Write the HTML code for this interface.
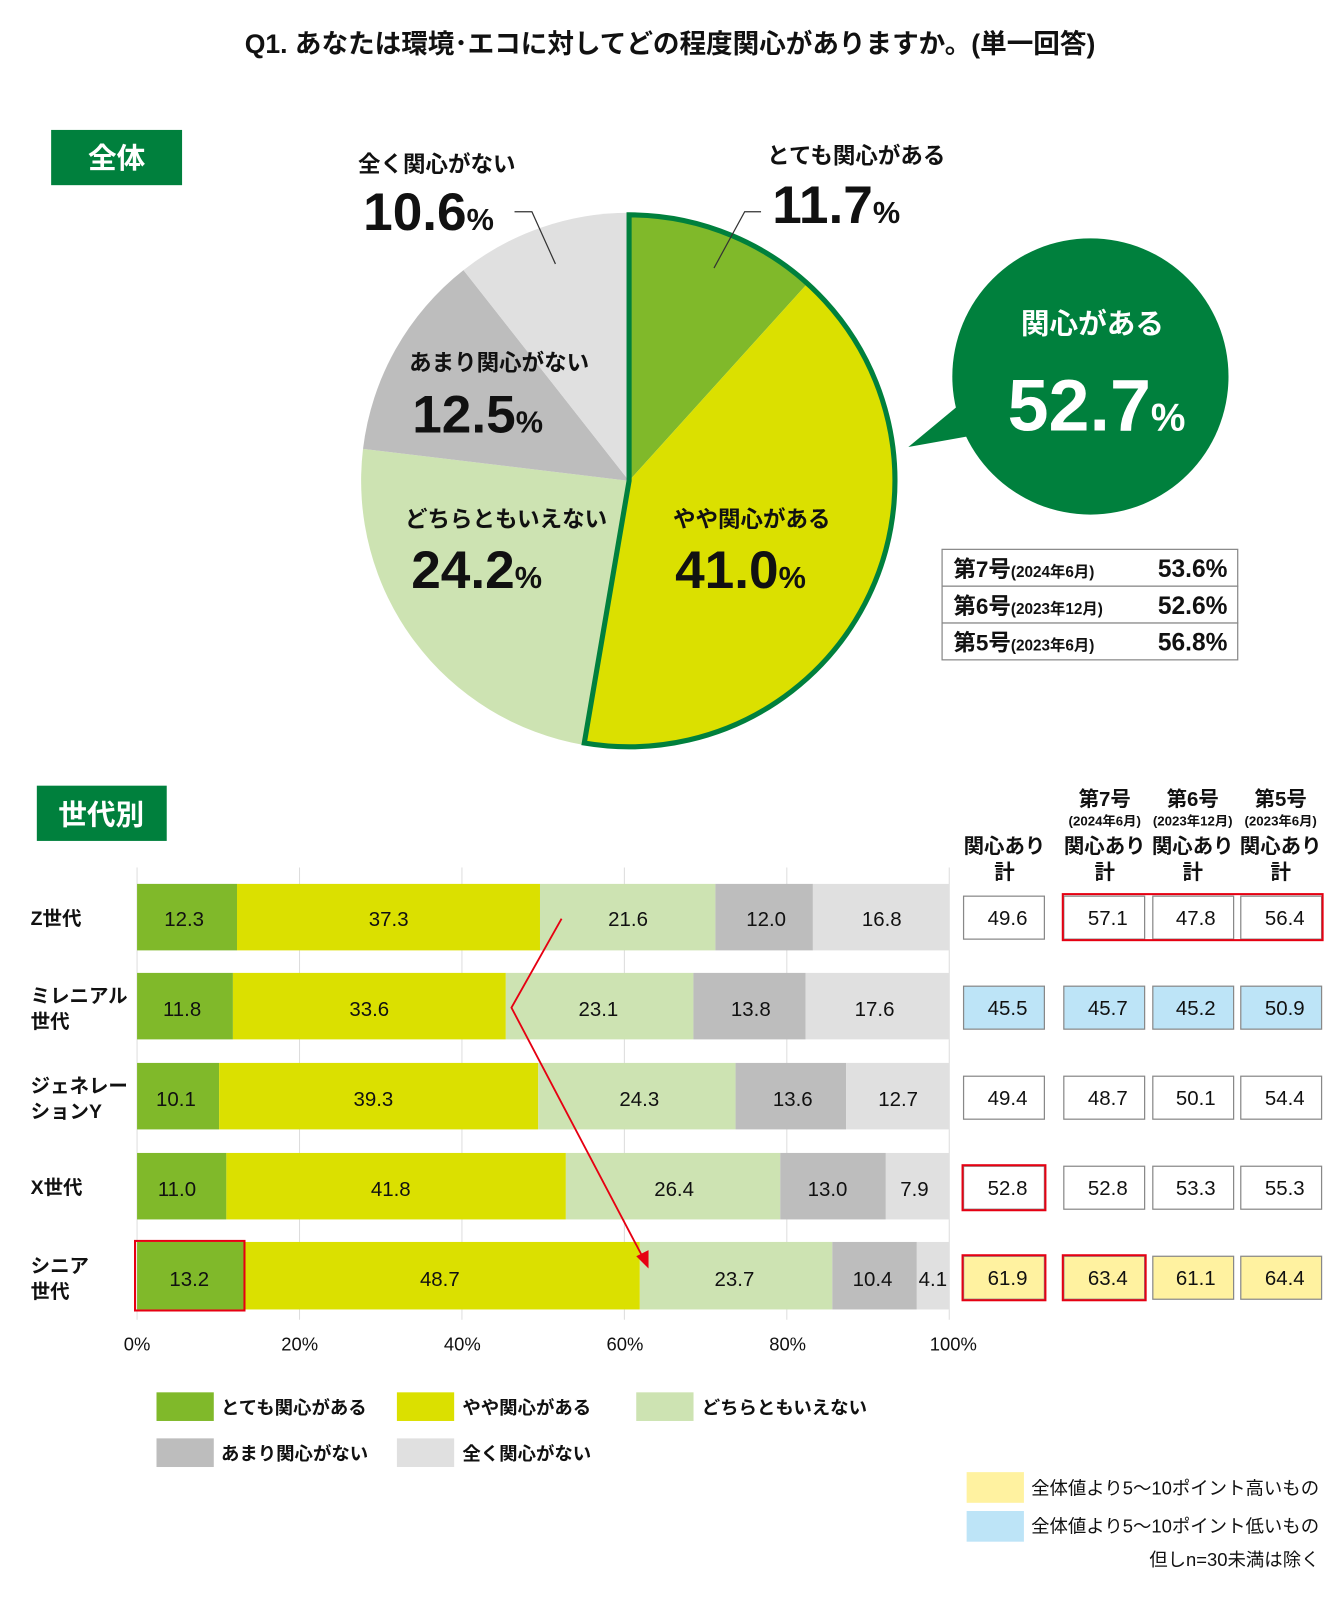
<!DOCTYPE html>
<html><head><meta charset="utf-8"><style>
html,body{margin:0;padding:0;background:#fff;}
svg{display:block;}
text{font-family:"Liberation Sans","Noto Sans CJK JP",sans-serif;}
</style></head><body>
<svg width="1340" height="1600" viewBox="0 0 1310 1564" preserveAspectRatio="none" xmlns="http://www.w3.org/2000/svg">
<rect width="1310" height="1564" fill="#fff"/>
<text x="655" y="52" text-anchor="middle" font-size="26" font-weight="bold" fill="#111">Q1. あなたは環境･エコに対してどの程度関心がありますか。(単一回答)</text>

<rect x="50" y="127" width="128" height="54" fill="#00803d"/>
<text x="114" y="164" text-anchor="middle" font-size="28" font-weight="bold" fill="#fff">全体</text>

<!-- pie -->
<g stroke="none">
<path d="M615,470 L615,208 A262,262 0 0 1 790.7,275.6 Z" fill="#80b92a"/>
<path d="M615,470 L790.7,275.6 A262,262 0 0 1 570.8,728.2 Z" fill="#dbe000"/>
<path d="M615,470 L570.8,728.2 A262,262 0 0 1 354.9,438.8 Z" fill="#cde3b2"/>
<path d="M615,470 L354.9,438.8 A262,262 0 0 1 453.1,264 Z" fill="#bdbdbd"/>
<path d="M615,470 L453.1,264 A262,262 0 0 1 615,208 Z" fill="#e0e0e0"/>
</g>
<path d="M615,470 L615,210 A260,260 0 1 1 571.2,726.3 Z" fill="none" stroke="#00803d" stroke-width="5" stroke-linejoin="miter"/>

<text x="750" y="160" font-size="22" font-weight="bold" fill="#111">とても関心がある</text>
<text x="755" y="218" font-size="52" font-weight="bold" fill="#111">11.7<tspan font-size="30">%</tspan></text>
<polyline points="744,207 728,207 698,262" fill="none" stroke="#333" stroke-width="1.2"/>
<text x="350" y="168" font-size="22" font-weight="bold" fill="#111">全く関心がない</text>
<text x="355" y="225" font-size="52" font-weight="bold" fill="#111">10.6<tspan font-size="30">%</tspan></text>
<polyline points="503,207 520,207 543,258" fill="none" stroke="#333" stroke-width="1.2"/>
<text x="400" y="362" font-size="22" font-weight="bold" fill="#111">あまり関心がない</text>
<text x="403" y="423" font-size="52" font-weight="bold" fill="#111">12.5<tspan font-size="30">%</tspan></text>
<text x="396" y="515" font-size="22" font-weight="bold" fill="#111">どちらともいえない</text>
<text x="402" y="575" font-size="52" font-weight="bold" fill="#111">24.2<tspan font-size="30">%</tspan></text>
<text x="658" y="515" font-size="22" font-weight="bold" fill="#111">やや関心がある</text>
<text x="660" y="575" font-size="52" font-weight="bold" fill="#111">41.0<tspan font-size="30">%</tspan></text>

<!-- bubble -->
<path d="M888,437 L935,398 L955,425 Z" fill="#00803d"/>
<circle cx="1066" cy="368" r="135" fill="#00803d"/>
<text x="1068" y="326" text-anchor="middle" font-size="28" font-weight="bold" fill="#fff">関心がある</text>
<text x="1072" y="421" text-anchor="middle" font-size="72" font-weight="bold" fill="#fff">52.7<tspan font-size="38">%</tspan></text>

<!-- small table -->
<g fill="#fff" stroke="#888" stroke-width="1.2">
<rect x="921" y="537" width="289" height="36"/>
<rect x="921" y="573" width="289" height="36"/>
<rect x="921" y="609" width="289" height="36"/>
</g>
<g font-weight="bold" fill="#111">
<text x="932" y="564" font-size="22">第7号<tspan font-size="15">(2024年6月)</tspan></text>
<text x="1200" y="564" font-size="24" text-anchor="end">53.6%</text>
<text x="932" y="600" font-size="22">第6号<tspan font-size="15">(2023年12月)</tspan></text>
<text x="1200" y="600" font-size="24" text-anchor="end">52.6%</text>
<text x="932" y="636" font-size="22">第5号<tspan font-size="15">(2023年6月)</tspan></text>
<text x="1200" y="636" font-size="24" text-anchor="end">56.8%</text>
</g>

<!-- 世代別 -->
<rect x="36" y="768" width="127" height="54" fill="#00803d"/>
<text x="99" y="806" text-anchor="middle" font-size="28" font-weight="bold" fill="#fff">世代別</text>

<!-- headers -->
<g font-weight="bold" fill="#111" text-anchor="middle">
<text x="1080" y="788" font-size="20">第7号</text>
<text x="1166" y="788" font-size="20">第6号</text>
<text x="1252" y="788" font-size="20">第5号</text>
<text x="1080" y="807" font-size="13">(2024年6月)</text>
<text x="1166" y="807" font-size="13">(2023年12月)</text>
<text x="1252" y="807" font-size="13">(2023年6月)</text>
<text x="982" y="834" font-size="20">関心あり</text>
<text x="1080" y="834" font-size="20">関心あり</text>
<text x="1166" y="834" font-size="20">関心あり</text>
<text x="1252" y="834" font-size="20">関心あり</text>
<text x="982" y="859" font-size="20">計</text>
<text x="1080" y="859" font-size="20">計</text>
<text x="1166" y="859" font-size="20">計</text>
<text x="1252" y="859" font-size="20">計</text>
</g>

<!-- gridlines -->
<g stroke="#ddd" stroke-width="1">
<line x1="134" y1="848" x2="134" y2="1290"/>
<line x1="292.8" y1="848" x2="292.8" y2="1290"/>
<line x1="451.6" y1="848" x2="451.6" y2="1290"/>
<line x1="610.4" y1="848" x2="610.4" y2="1290"/>
<line x1="769.2" y1="848" x2="769.2" y2="1290"/>
<line x1="928" y1="848" x2="928" y2="1290"/>
</g>

<!-- bars -->
<g>
<rect x="134" y="864" width="97.7" height="65" fill="#80b92a"/>
<rect x="231.7" y="864" width="296.2" height="65" fill="#dbe000"/>
<rect x="527.9" y="864" width="171.5" height="65" fill="#cde3b2"/>
<rect x="699.4" y="864" width="95.3" height="65" fill="#bdbdbd"/>
<rect x="794.7" y="864" width="133.3" height="65" fill="#e0e0e0"/>

<rect x="134" y="951" width="93.7" height="65" fill="#80b92a"/>
<rect x="227.7" y="951" width="266.8" height="65" fill="#dbe000"/>
<rect x="494.5" y="951" width="183.4" height="65" fill="#cde3b2"/>
<rect x="677.9" y="951" width="109.6" height="65" fill="#bdbdbd"/>
<rect x="787.5" y="951" width="140.5" height="65" fill="#e0e0e0"/>

<rect x="134" y="1039" width="80.2" height="65" fill="#80b92a"/>
<rect x="214.2" y="1039" width="312" height="65" fill="#dbe000"/>
<rect x="526.2" y="1039" width="192.9" height="65" fill="#cde3b2"/>
<rect x="719.1" y="1039" width="108" height="65" fill="#bdbdbd"/>
<rect x="827.1" y="1039" width="100.9" height="65" fill="#e0e0e0"/>

<rect x="134" y="1127" width="87.3" height="65" fill="#80b92a"/>
<rect x="221.3" y="1127" width="331.9" height="65" fill="#dbe000"/>
<rect x="553.2" y="1127" width="209.6" height="65" fill="#cde3b2"/>
<rect x="762.8" y="1127" width="103.2" height="65" fill="#bdbdbd"/>
<rect x="866" y="1127" width="62" height="65" fill="#e0e0e0"/>

<rect x="134" y="1214" width="104.8" height="66" fill="#80b92a"/>
<rect x="238.8" y="1214" width="386.7" height="66" fill="#dbe000"/>
<rect x="625.5" y="1214" width="188.2" height="66" fill="#cde3b2"/>
<rect x="813.7" y="1214" width="82.6" height="66" fill="#bdbdbd"/>
<rect x="896.3" y="1214" width="31.7" height="66" fill="#e0e0e0"/>
<rect x="132" y="1213" width="107" height="68" fill="none" stroke="#e60012" stroke-width="2"/>
</g>
<g font-size="20" fill="#111" text-anchor="middle" font-weight="500">
<text x="180" y="905">12.3</text><text x="380" y="905">37.3</text><text x="614" y="905">21.6</text><text x="749" y="905">12.0</text><text x="862" y="905">16.8</text>
<text x="178" y="993">11.8</text><text x="361" y="993">33.6</text><text x="585" y="993">23.1</text><text x="734" y="993">13.8</text><text x="855" y="993">17.6</text>
<text x="172" y="1081">10.1</text><text x="365" y="1081">39.3</text><text x="625" y="1081">24.3</text><text x="775" y="1081">13.6</text><text x="878" y="1081">12.7</text>
<text x="173" y="1169">11.0</text><text x="382" y="1169">41.8</text><text x="659" y="1169">26.4</text><text x="809" y="1169">13.0</text><text x="894" y="1169">7.9</text>
<text x="185" y="1257">13.2</text><text x="430" y="1257">48.7</text><text x="718" y="1257">23.7</text><text x="853" y="1257">10.4</text><text x="912" y="1257">4.1</text>
</g>

<!-- arrow -->
<polyline points="549,898 500,985 630,1232" fill="none" stroke="#e60012" stroke-width="1.8"/>
<path d="M634,1240 L622,1228 L634,1222 Z" fill="#e60012"/>

<!-- row labels -->
<g font-size="19" font-weight="bold" fill="#111">
<text x="30" y="904">Z世代</text>
<text x="30" y="980">ミレニアル</text><text x="30" y="1005">世代</text>
<text x="30" y="1068">ジェネレー</text><text x="30" y="1093">ションY</text>
<text x="30" y="1167">X世代</text>
<text x="30" y="1244">シニア</text><text x="30" y="1269">世代</text>
</g>

<!-- axis labels -->
<g font-size="18" font-weight="500" fill="#111" text-anchor="middle">
<text x="134" y="1320">0%</text><text x="293" y="1320">20%</text><text x="452" y="1320">40%</text>
<text x="611" y="1320">60%</text><text x="770" y="1320">80%</text><text x="932" y="1320">100%</text>
</g>

<!-- right boxes -->
<g stroke="#888" stroke-width="1.2">
<rect x="942" y="876" width="79" height="42" fill="#fff"/>
<rect x="1040" y="876" width="79" height="42" fill="#fff"/>
<rect x="1127" y="876" width="79" height="42" fill="#fff"/>
<rect x="1213" y="876" width="79" height="42" fill="#fff"/>
<rect x="942" y="964" width="79" height="42" fill="#bde4f7"/>
<rect x="1040" y="964" width="79" height="42" fill="#bde4f7"/>
<rect x="1127" y="964" width="79" height="42" fill="#bde4f7"/>
<rect x="1213" y="964" width="79" height="42" fill="#bde4f7"/>
<rect x="942" y="1052" width="79" height="42" fill="#fff"/>
<rect x="1040" y="1052" width="79" height="42" fill="#fff"/>
<rect x="1127" y="1052" width="79" height="42" fill="#fff"/>
<rect x="1213" y="1052" width="79" height="42" fill="#fff"/>
<rect x="942" y="1140" width="79" height="42" fill="#fff"/>
<rect x="1040" y="1140" width="79" height="42" fill="#fff"/>
<rect x="1127" y="1140" width="79" height="42" fill="#fff"/>
<rect x="1213" y="1140" width="79" height="42" fill="#fff"/>
<rect x="942" y="1228" width="79" height="42" fill="#fff2a0"/>
<rect x="1040" y="1228" width="79" height="42" fill="#fff2a0"/>
<rect x="1127" y="1228" width="79" height="42" fill="#fff2a0"/>
<rect x="1213" y="1228" width="79" height="42" fill="#fff2a0"/>
</g>
<g fill="none" stroke="#e60012" stroke-width="2">
<rect x="1039" y="874" width="254" height="45"/>
<rect x="941" y="1139" width="81" height="44"/>
<rect x="941" y="1227" width="81" height="44"/>
<rect x="1039" y="1227" width="81" height="44"/>
</g>
<g font-size="20" fill="#111" text-anchor="middle" font-weight="500">
<text x="985" y="904">49.6</text><text x="1083" y="904">57.1</text><text x="1169" y="904">47.8</text><text x="1256" y="904">56.4</text>
<text x="985" y="992">45.5</text><text x="1083" y="992">45.7</text><text x="1169" y="992">45.2</text><text x="1256" y="992">50.9</text>
<text x="985" y="1080">49.4</text><text x="1083" y="1080">48.7</text><text x="1169" y="1080">50.1</text><text x="1256" y="1080">54.4</text>
<text x="985" y="1168">52.8</text><text x="1083" y="1168">52.8</text><text x="1169" y="1168">53.3</text><text x="1256" y="1168">55.3</text>
<text x="985" y="1256">61.9</text><text x="1083" y="1256">63.4</text><text x="1169" y="1256">61.1</text><text x="1256" y="1256">64.4</text>
</g>

<!-- legend -->
<rect x="153" y="1361" width="56" height="28" fill="#80b92a"/>
<rect x="388" y="1361" width="56" height="28" fill="#dbe000"/>
<rect x="622" y="1361" width="56" height="28" fill="#cde3b2"/>
<rect x="153" y="1406" width="56" height="28" fill="#bdbdbd"/>
<rect x="388" y="1406" width="56" height="28" fill="#e0e0e0"/>
<g font-size="18" font-weight="bold" fill="#111">
<text x="216" y="1382">とても関心がある</text>
<text x="452" y="1382">やや関心がある</text>
<text x="686" y="1382">どちらともいえない</text>
<text x="216" y="1427">あまり関心がない</text>
<text x="452" y="1427">全く関心がない</text>
</g>

<rect x="945" y="1439" width="56" height="30" fill="#fff2a0"/>
<rect x="945" y="1477" width="56" height="30" fill="#bde4f7"/>
<g font-size="18" fill="#111">
<text x="1008" y="1461">全体値より5～10ポイント高いもの</text>
<text x="1008" y="1498">全体値より5～10ポイント低いもの</text>
<text x="1290" y="1531" text-anchor="end">但しn=30未満は除く</text>
</g>
</svg>
</body></html>
